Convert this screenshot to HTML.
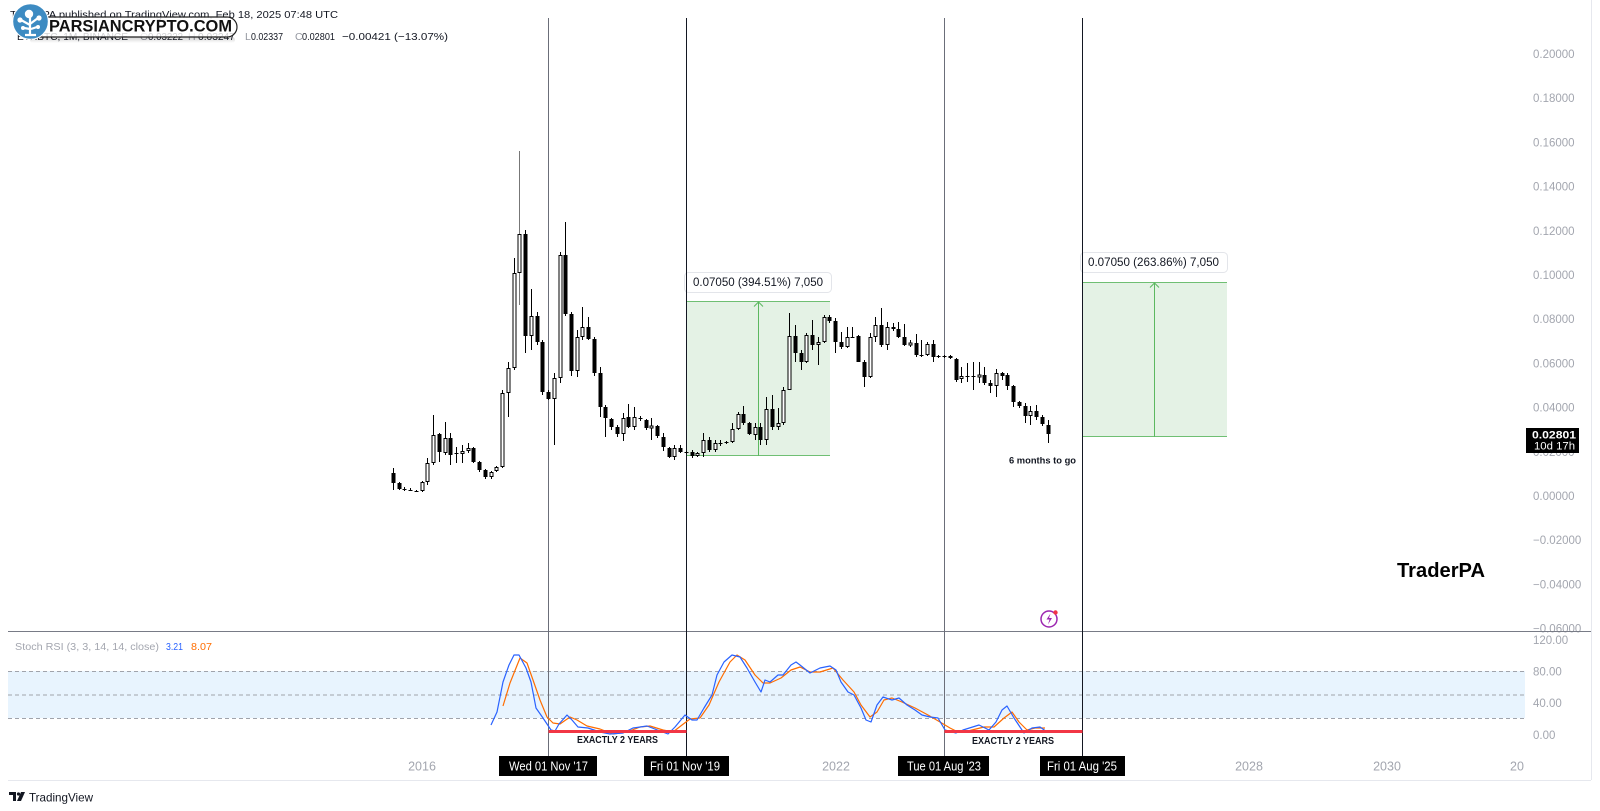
<!DOCTYPE html>
<html><head><meta charset="utf-8"><style>
html,body{margin:0;padding:0;background:#fff;}
svg{display:block;font-family:"Liberation Sans",Arial,sans-serif;}
</style></head><body>
<svg width="1600" height="811" viewBox="0 0 1600 811" xmlns="http://www.w3.org/2000/svg">
<defs>
<linearGradient id="sh" x1="0" y1="0" x2="0" y2="1"><stop offset="0" stop-color="#000" stop-opacity="0.18"/><stop offset="1" stop-color="#000" stop-opacity="0"/></linearGradient>
</defs>
<rect width="1600" height="811" fill="#fff"/>

<!-- header -->
<text x="10" y="18" font-size="10.5" fill="#131722" textLength="328" lengthAdjust="spacingAndGlyphs">TraderPA published on TradingView.com, Feb 18, 2025 07:48 UTC</text>
<g font-size="10.5" fill="#131722">
<text x="17" y="40" textLength="111" lengthAdjust="spacingAndGlyphs">ETHBTC, 1M, BINANCE</text>
<text x="140" y="40" fill="#9598a1">O</text><text x="148" y="40" textLength="35" lengthAdjust="spacingAndGlyphs">0.03222</text>
<text x="188" y="40" fill="#9598a1">H</text><text x="198" y="40" textLength="37" lengthAdjust="spacingAndGlyphs">0.03247</text>
<text x="245" y="40" fill="#9598a1">L</text><text x="251" y="40" textLength="32" lengthAdjust="spacingAndGlyphs">0.02337</text>
<text x="295" y="40" fill="#9598a1">C</text><text x="302" y="40" textLength="33" lengthAdjust="spacingAndGlyphs">0.02801</text>
<text x="342" y="40" textLength="106" lengthAdjust="spacingAndGlyphs">−0.00421 (−13.07%)</text>
</g>

<!-- watermark -->
<rect x="30" y="37" width="205" height="6" rx="3" fill="url(#sh)"/>
<rect x="26" y="17" width="211" height="20" rx="10" fill="rgba(255,255,255,0.8)" stroke="#222" stroke-width="1.2"/>
<text x="49" y="31.5" font-size="17" font-weight="bold" fill="#111" textLength="183" lengthAdjust="spacingAndGlyphs">PARSIANCRYPTO.COM</text>
<circle cx="30.5" cy="21.5" r="17.8" fill="#3d8bc2" stroke="#fff" stroke-width="1"/>
<g fill="#fff" stroke="#fff">
<circle cx="29" cy="14" r="4.2" stroke="none"/>
<circle cx="20" cy="20" r="2.6" stroke="none"/>
<circle cx="39" cy="18" r="2.6" stroke="none"/>
<circle cx="23" cy="28" r="2" stroke="none"/>
<circle cx="38" cy="27" r="2" stroke="none"/>
<path d="M30 17V34M30 25L21 20M30 24L38 18M30 29L24 28M31 29L37 27M25 35h11" stroke-width="2.2" fill="none"/>
</g>

<!-- right border & separators -->
<line x1="1591.5" y1="0" x2="1591.5" y2="780" stroke="#e6e8ee" stroke-width="1"/>
<line x1="8" y1="780.5" x2="1591" y2="780.5" stroke="#e6e8ee" stroke-width="1"/>

<!-- price axis labels -->
<g font-size="11.5" fill="#a3a6af">
<text x="1533" y="58">0.20000</text>
<text x="1533" y="102">0.18000</text>
<text x="1533" y="146.5">0.16000</text>
<text x="1533" y="190.5">0.14000</text>
<text x="1533" y="235">0.12000</text>
<text x="1533" y="279">0.10000</text>
<text x="1533" y="323">0.08000</text>
<text x="1533" y="367.5">0.06000</text>
<text x="1533" y="411.5">0.04000</text>
<text x="1533" y="456">0.02000</text>
<text x="1533" y="500">0.00000</text>
<text x="1533" y="544">−0.02000</text>
<text x="1533" y="588.5">−0.04000</text>
<text x="1533" y="632.5">−0.06000</text>
<text x="1533" y="644">120.00</text>
<text x="1533" y="675.5">80.00</text>
<text x="1533" y="707">40.00</text>
<text x="1533" y="739">0.00</text>
</g>

<!-- measure boxes -->
<rect x="686" y="301" width="144" height="155" fill="#e4f2e5"/>
<line x1="686" y1="301.5" x2="830" y2="301.5" stroke="#6fbf73" stroke-width="1"/>
<line x1="686" y1="455.5" x2="830" y2="455.5" stroke="#6fbf73" stroke-width="1"/>
<path d="M758.5 456V302M754 306.5l4.5-4.5 4.5 4.5" stroke="#5cb860" stroke-width="1" fill="none"/>
<rect x="684.5" y="272.5" width="147" height="20" rx="4" fill="#fff" stroke="#e3e5ea"/>
<text x="693" y="286" font-size="11.5" fill="#131722" textLength="130" lengthAdjust="spacingAndGlyphs">0.07050 (394.51%) 7,050</text>

<rect x="1082" y="282" width="145" height="155" fill="#e4f2e5"/>
<line x1="1082" y1="282.5" x2="1227" y2="282.5" stroke="#6fbf73" stroke-width="1"/>
<line x1="1082" y1="436.5" x2="1227" y2="436.5" stroke="#6fbf73" stroke-width="1"/>
<path d="M1154.5 437V283M1150 287.5l4.5-4.5 4.5 4.5" stroke="#5cb860" stroke-width="1" fill="none"/>
<rect x="1080.5" y="252.5" width="147" height="20" rx="4" fill="#fff" stroke="#e3e5ea"/>
<text x="1088" y="266" font-size="11.5" fill="#131722" textLength="131" lengthAdjust="spacingAndGlyphs">0.07050 (263.86%) 7,050</text>

<!-- stoch band -->
<rect x="8" y="671" width="1517" height="47" fill="rgba(33,150,243,0.1)"/>
<g stroke="#a0a3ab" stroke-width="1" stroke-dasharray="4 3">
<line x1="8" y1="671.5" x2="1525" y2="671.5"/>
<line x1="8" y1="695" x2="1525" y2="695"/>
<line x1="8" y1="718.5" x2="1525" y2="718.5"/>
</g>

<!-- pane separator -->
<line x1="8" y1="631.5" x2="1591" y2="631.5" stroke="#787b86" stroke-width="1"/>

<!-- vertical lines -->
<line x1="548.5" y1="18" x2="548.5" y2="756" stroke="#6b6e79" stroke-width="1"/>
<line x1="686.5" y1="18" x2="686.5" y2="756" stroke="#131722" stroke-width="1"/>
<line x1="944.5" y1="18" x2="944.5" y2="756" stroke="#6b6e79" stroke-width="1"/>
<line x1="1082.5" y1="18" x2="1082.5" y2="756" stroke="#131722" stroke-width="1"/>

<!-- candles: wicks -->
<path fill="none" stroke="#000" stroke-width="1" d="
M393.5 468V490M399.5 482V490M404.5 487V491M410.5 488V491M416.5 490V492M422.5 481V492M427.5 458V485M433.5 415V465M439.5 433V462M445.5 422V455
M450.5 433V465M456.5 447V463M462.5 445V463M468.5 443V453M473.5 447V463M479.5 461V472M485.5 469V479M491.5 471V479M496.5 466V472M502.5 390V468
M508.5 362V417M514.5 258V370M525.5 230V353M531.5 289V350M537.5 312V345M542.5 340V395M548.5 390V400M554.5 373V445M560.5 252V383
M565.5 222V316M571.5 312V376M577.5 330V377M582.5 307V340M588.5 317V340M594.5 337V376M600.5 367V417M605.5 405V437M611.5 418V430M617.5 425V437
M623.5 413V441M628.5 404V428M634.5 407V430M640.5 416V421M646.5 419V430M651.5 418V440M657.5 425V438M663.5 433V451M669.5 447V458M674.5 445V460
M680.5 445V453M686.5 451V454M692.5 450V458M697.5 452V457M703.5 433V457M709.5 437V452M715.5 440V452M720.5 440V446M726.5 441V444M732.5 423V443
M738.5 412V430M743.5 406V425M749.5 422V435M755.5 423V440M760.5 423V445M766.5 397V445M772.5 395V430M778.5 408V430M783.5 387V425M789.5 313V390
M795.5 325V362M801.5 350V370M806.5 333V363M812.5 320V350M818.5 337V365M824.5 315V343M829.5 315V323M835.5 318V353M841.5 332V349M847.5 327V348
M852.5 327V338M858.5 335V362M864.5 360V387M870.5 333V378M875.5 317V342M881.5 308V347M887.5 322V350M893.5 323V331M898.5 322V338M904.5 324V346
M910.5 340V347M916.5 334V357M921.5 340V357M927.5 342V356M933.5 340V362M938.5 355V358M944.5 355V358M950.5 355V359M956.5 358V382M961.5 367V383
M967.5 363V382M973.5 362V390M979.5 362V383M984.5 367V385M990.5 380V393M996.5 369V397M1002.5 372V380M1007.5 373V390M1013.5 385V407M1019.5 401V408
M1025.5 403V423M1030.5 406V425M1036.5 405V420M1042.5 415V426M1048.5 420V443
M402.5 489.5h4M408.5 490.5h4M414.5 491.5h4M454.5 453.5h4M638.5 418.5h4M684.5 452.5h4M718.5 443.5h4M724.5 442.5h4M850.5 337.5h4M919.5 355.5h4
M936.5 356.5h4M942.5 356.5h4M965.5 376.5h4M971.5 376.5h4"/>
<path fill="none" stroke="#777" stroke-width="1" d="M519.5 151V305"/>

<!-- black bodies -->
<path fill="#000" d="
M391.5 473h4V483h-4zM397.5 483h4V489h-4zM437.5 434h4V452h-4zM448.5 438h4V455h-4zM471.5 448h4V462h-4zM477.5 462h4V470h-4zM483.5 470h4V477h-4z
M523.5 234h4V336h-4zM535.5 316h4V342h-4zM540.5 342h4V392h-4zM546.5 392h4V399h-4zM563.5 255h4V314h-4zM569.5 314h4V371h-4zM586.5 327h4V339h-4z
M592.5 339h4V373h-4zM598.5 373h4V407h-4zM603.5 407h4V418h-4zM609.5 419h4V427h-4zM615.5 427h4V434h-4zM626.5 417h4V427h-4zM644.5 420h4V428h-4z
M655.5 426h4V436h-4zM661.5 437h4V447h-4zM667.5 448h4V457h-4zM678.5 448h4V452h-4zM690.5 452h4V456h-4zM707.5 440h4V450h-4zM741.5 414h4V423h-4z
M747.5 423h4V434h-4zM758.5 427h4V440h-4zM770.5 409h4V427h-4zM793.5 336h4V353h-4zM799.5 353h4V362h-4zM810.5 335h4V345h-4zM827.5 317h4V321h-4z
M833.5 321h4V342h-4zM839.5 342h4V347h-4zM856.5 336h4V362h-4zM862.5 362h4V377h-4zM879.5 325h4V345h-4zM891.5 327h4V329h-4zM896.5 329h4V337h-4z
M902.5 337h4V345h-4zM914.5 343h4V355h-4zM931.5 344h4V357h-4zM948.5 356h4V358h-4zM954.5 359h4V380h-4zM982.5 375h4V383h-4zM988.5 383h4V386h-4z
M1000.5 373h4V376h-4zM1005.5 375h4V386h-4zM1011.5 386h4V402h-4zM1017.5 402h4V406h-4zM1023.5 406h4V416h-4zM1034.5 411h4V417h-4zM1040.5 417h4V424h-4z
M1046.5 425h4V434h-4z"/>

<!-- white bodies -->
<path fill="#fff" stroke="#000" stroke-width="1" d="
M421 482.5h3V490.5h-3zM426 463.5h3V481.5h-3zM432 435.5h3V462.5h-3zM444 438.5h3V452.5h-3zM461 451.5h3V453.5h-3zM467 448.5h3V450.5h-3zM490 472.5h3V476.5h-3z
M495 467.5h3V470.5h-3zM501 393.5h3V466.5h-3zM507 368.5h3V392.5h-3zM513 273.5h3V367.5h-3zM518 234.5h3V272.5h-3zM530 316.5h3V335.5h-3zM553 378.5h3V398.5h-3z
M559 255.5h3V377.5h-3zM576 337.5h3V370.5h-3zM581 327.5h3V336.5h-3zM622 418.5h3V433.5h-3zM633 417.5h3V426.5h-3zM650 426h3V428h-3zM673 448.5h3V456.5h-3z
M696 453.5h3V455.5h-3zM702 440.5h3V452.5h-3zM714 443.5h3V449.5h-3zM731 429.5h3V441.5h-3zM737 414.5h3V428.5h-3zM754 427.5h3V434.5h-3zM765 409.5h3V439.5h-3z
M777 423.5h3V426.5h-3zM782 390.5h3V422.5h-3zM788 336.5h3V389.5h-3zM805 335.5h3V361.5h-3zM817 342.5h3V344.5h-3zM823 317.5h3V341.5h-3zM846 337.5h3V346.5h-3z
M869 337.5h3V376.5h-3zM874 325.5h3V336.5h-3zM886 327.5h3V344.5h-3zM909 343h3V345h-3zM926 344.5h3V354.5h-3zM960 376.5h3V378.5h-3zM978 375h3V377h-3z
M995 373.5h3V385.5h-3zM1029 411.5h3V415.5h-3z"/>

<!-- last price box -->
<rect x="1526" y="428" width="53" height="25" fill="#000"/>
<text x="1532" y="438.5" font-size="11" font-weight="bold" fill="#fff" textLength="44" lengthAdjust="spacingAndGlyphs">0.02801</text>
<text x="1534" y="449.5" font-size="11" fill="#fff" textLength="41" lengthAdjust="spacingAndGlyphs">10d 17h</text>

<!-- annotations -->
<text x="1009" y="463.5" font-size="9.5" font-weight="bold" fill="#131722" textLength="67" lengthAdjust="spacingAndGlyphs">6 months to go</text>
<text x="1397" y="577" font-size="20" font-weight="bold" fill="#000" textLength="88" lengthAdjust="spacingAndGlyphs">TraderPA</text>

<!-- icon -->
<circle cx="1049" cy="619" r="8" fill="#fff" stroke="#9c27b0" stroke-width="1.5"/>
<path d="M1050.5 613.5l-4 6h3l-1.5 5 4-6.5h-3z" fill="#9c27b0"/>
<circle cx="1055.5" cy="612.5" r="2.2" fill="#f23645"/>

<!-- stoch header -->
<text x="15" y="650" font-size="10.5" fill="#a3a6af" textLength="144" lengthAdjust="spacingAndGlyphs">Stoch RSI (3, 3, 14, 14, close)</text>
<text x="166" y="650" font-size="10.5" fill="#2962ff" textLength="17" lengthAdjust="spacingAndGlyphs">3.21</text>
<text x="191" y="650" font-size="10.5" fill="#ff6d00" textLength="21" lengthAdjust="spacingAndGlyphs">8.07</text>

<!-- stoch lines -->
<polyline fill="none" stroke="#ff6d00" stroke-width="1.2" stroke-linejoin="round" points="503,706 510,683 520,658 527,663 533,680 540,700 547,717 553,723 560,724 570,717 577,720 587,726 600,729 613,734 627,732 640,727 650,726 663,730 673,732 682,725 690,719 700,718 709,705 719,682 730,662 737,655 745,660 755,675 763,683 770,683 781,678 791,670 800,667 810,672 820,672 833,668 843,680 854,692 861,705 870,717 877,712 884,700 892,698 902,702 915,708 928,715 940,722 950,728 958,732 968,731 984,727 994,727 1004,718 1012,712 1019,722 1027,730 1035,728 1045,728"/>
<polyline fill="none" stroke="#2962ff" stroke-width="1.2" stroke-linejoin="round" points="491,725 497,712 503,682 509,665 514,655 519,655 526,668 531,682 536,708 543,718 551,730 555,731 559,724 567,715 572,720 578,727 588,728 600,732 610,734 623,733 633,728 647,726 660,731 668,734 675,727 685,715 692,720 697,720 704,708 712,695 717,675 724,662 732,655 740,657 747,668 755,682 761,692 765,680 770,682 778,675 783,675 791,665 796,662 800,665 810,673 820,668 830,666 836,670 841,682 848,692 854,695 861,708 866,720 871,722 877,705 883,697 892,700 899,698 907,705 915,710 922,715 930,717 938,718 945,730 956,733 963,730 979,725 989,730 996,722 1002,710 1007,706 1014,718 1024,733 1032,728 1040,727 1047,732"/>

<!-- red lines -->
<line x1="548.5" y1="731.5" x2="686.5" y2="731.5" stroke="#f23645" stroke-width="3"/>
<line x1="944.5" y1="731.5" x2="1082.5" y2="731.5" stroke="#f23645" stroke-width="3"/>
<text x="577" y="743" font-size="10" font-weight="bold" fill="#131722" textLength="81" lengthAdjust="spacingAndGlyphs">EXACTLY 2 YEARS</text>
<text x="972" y="744" font-size="10" font-weight="bold" fill="#131722" textLength="82" lengthAdjust="spacingAndGlyphs">EXACTLY 2 YEARS</text>

<!-- time axis -->
<g font-size="12.5" fill="#a3a6af" text-anchor="middle">
<text x="422" y="770.5">2016</text>
<text x="836" y="770.5">2022</text>
<text x="1249" y="770.5">2028</text>
<text x="1387" y="770.5">2030</text>
<text x="1517" y="770.5">20</text>
</g>
<rect x="499" y="756" width="98" height="20" fill="#000"/>
<text x="509" y="770.5" font-size="12.5" fill="#fff" textLength="79" lengthAdjust="spacingAndGlyphs">Wed 01 Nov '17</text>
<rect x="644" y="756" width="85" height="20" fill="#000"/>
<text x="650" y="770.5" font-size="12.5" fill="#fff" textLength="70" lengthAdjust="spacingAndGlyphs">Fri 01 Nov '19</text>
<rect x="898" y="756" width="91" height="20" fill="#000"/>
<text x="907" y="770.5" font-size="12.5" fill="#fff" textLength="74" lengthAdjust="spacingAndGlyphs">Tue 01 Aug '23</text>
<rect x="1040" y="756" width="85" height="20" fill="#000"/>
<text x="1047" y="770.5" font-size="12.5" fill="#fff" textLength="70" lengthAdjust="spacingAndGlyphs">Fri 01 Aug '25</text>

<!-- footer -->
<path d="M9 792h7v9h-3v-6h-4z" fill="#131722"/>
<circle cx="18.5" cy="794" r="1.6" fill="#131722"/>
<path d="M21 792h4l-4 9h-4z" fill="#131722"/>
<text x="29" y="801.5" font-size="12" fill="#131722" textLength="64" lengthAdjust="spacingAndGlyphs">TradingView</text>
</svg>
</body></html>
